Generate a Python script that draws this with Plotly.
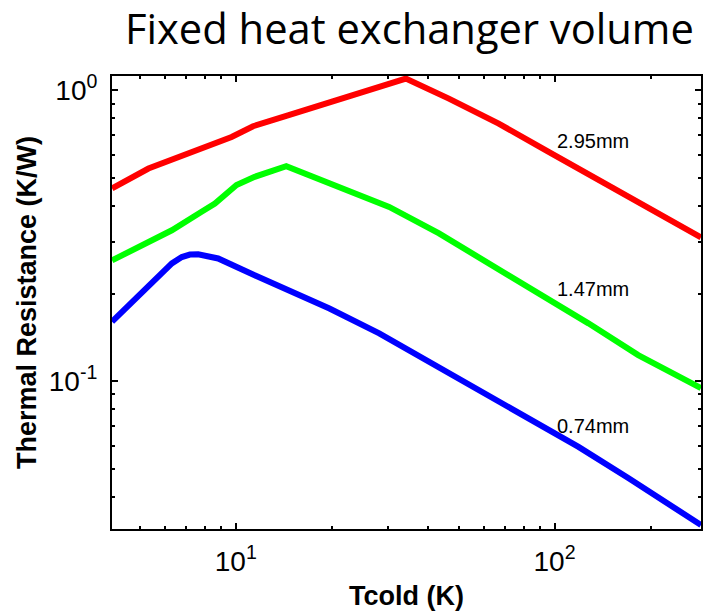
import numpy as np
import plotly.graph_objects as go

# ---- data ----
red_x = [4.09, 5.32, 9.70, 11.33, 14.57, 20.88, 34.15, 46.6, 66.8, 95.8, 137.2, 196.7, 288.0]
red_y = [0.460, 0.538, 0.691, 0.752, 0.820, 0.929, 1.097, 0.936, 0.768, 0.614, 0.4906, 0.3923, 0.312]

green_x = [4.09, 6.30, 7.81, 8.60, 10.05, 11.46, 14.40, 18.08, 21.13, 30.28, 43.4, 62.2, 89.1, 127.7, 183.0, 288.0]
green_y = [0.260, 0.330, 0.382, 0.408, 0.472, 0.504, 0.548, 0.497, 0.465, 0.397, 0.3218, 0.2538, 0.2001, 0.158, 0.1228, 0.0946]

blue_x = [4.09, 4.95, 6.30, 6.77, 7.18, 7.62, 8.17, 8.80, 11.46, 14.57, 19.67, 28.18, 40.4, 57.9, 82.9, 118.9, 170.3, 288.0]
blue_y = [0.160, 0.195, 0.254, 0.267, 0.2722, 0.273, 0.2698, 0.264, 0.231, 0.2055, 0.1777, 0.1459, 0.1165, 0.0931, 0.0744, 0.0594, 0.0464, 0.0320]

series_names = ["2.95mm", "1.47mm", "0.74mm"]
series_colors = ["#FF0000", "#00FF00", "#0000FF"]
label_x = [100, 100, 100]
label_y = [0.669, 0.207, 0.0702]

x_tickvals = [10, 100]
x_ticktext = ["10<sup>1</sup>", "10<sup>2</sup>"]
x_minor = [5, 6, 7, 8, 9, 20, 30, 40, 50, 60, 70, 80, 90, 200]
y_tickvals = [0.1, 1]
y_ticktext = ["10<sup>-1</sup>", "10<sup>0</sup>"]
y_minor = [0.04, 0.05, 0.06, 0.07, 0.08, 0.09, 0.2, 0.3, 0.4, 0.5, 0.6, 0.7, 0.8, 0.9]

x_range_log = [0.6116, 2.4594]
y_range_log = [-1.5086, 0.049]

title_text = "Fixed heat exchanger volume"
x_title = "Tcold (K)"
y_title = "Thermal Resistance (K/W)"

AX_FONT = "Arial, 'Liberation Sans', sans-serif"

fig = go.Figure()
for xs, ys, name, col in zip([red_x, green_x, blue_x], [red_y, green_y, blue_y],
                             series_names, series_colors):
    fig.add_trace(go.Scatter(x=xs, y=ys, mode="lines", name=name,
                             line=dict(color=col, width=6), showlegend=False))

for name, lx, ly in zip(series_names, label_x, label_y):
    fig.add_annotation(x=float(np.log10(lx)), y=float(np.log10(ly)), xref="x", yref="y",
                       text=name, showarrow=False, xanchor="left", yanchor="middle",
                       font=dict(family=AX_FONT, size=20, color="black"))

fig.add_annotation(x=0.505, y=1.1063, xref="paper", yref="paper", text=title_text,
                   showarrow=False, xanchor="center", yanchor="middle",
                   font=dict(family="'Open Sans', sans-serif", size=41.7, color="black"))

common = dict(showgrid=False, zeroline=False, showline=True, linecolor="black",
              linewidth=2, mirror="ticks", ticks="inside", ticklen=6, tickwidth=2,
              tickcolor="black", tickmode="array",
              tickfont=dict(family=AX_FONT, size=28, color="black"))

fig.update_xaxes(type="log", range=x_range_log, tickvals=x_tickvals, ticktext=x_ticktext,
                 minor=dict(tickmode="array", tickvals=x_minor, ticks="inside", ticklen=3,
                            tickwidth=2, tickcolor="black", showgrid=False),
                 title=dict(text="<b>" + x_title + "</b>", standoff=11,
                            font=dict(family=AX_FONT, size=27, color="black")),
                 ticklabelstandoff=6, **common)
fig.update_yaxes(type="log", range=y_range_log, tickvals=y_tickvals, ticktext=y_ticktext,
                 minor=dict(tickmode="array", tickvals=y_minor, ticks="inside", ticklen=3,
                            tickwidth=2, tickcolor="black", showgrid=False),
                 title=dict(text="<b>" + y_title + "</b>", standoff=4,
                            font=dict(family=AX_FONT, size=27, color="black")),
                 ticklabelstandoff=7, **common)

fig.update_layout(width=703, height=612, margin=dict(l=112, r=0, t=76, b=83),
                  plot_bgcolor="white", paper_bgcolor="white")

fig.write_html("out.html")
